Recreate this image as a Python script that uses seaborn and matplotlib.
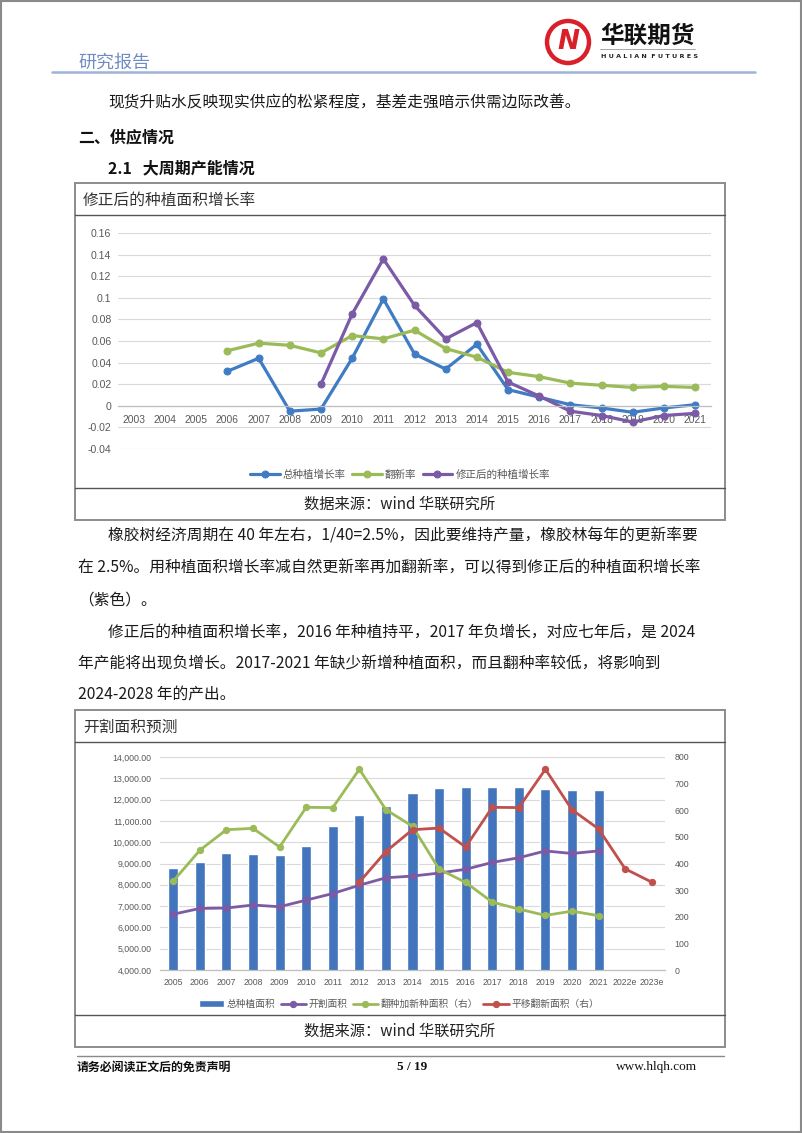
import matplotlib
matplotlib.use("Agg")
import matplotlib.pyplot as plt
import seaborn as sns
import numpy as np
from matplotlib.patches import Rectangle, Ellipse
from matplotlib.lines import Line2D
from matplotlib.ticker import FixedLocator

# ---------------- data ----------------
years1 = [str(y) for y in range(2003, 2022)]
total_growth_years = [str(y) for y in range(2006, 2022)]
total_growth = [0.032, 0.044, -0.005, -0.003, 0.044, 0.099, 0.048, 0.034, 0.057,
                0.015, 0.008, 0.001, -0.002, -0.006, -0.002, 0.001]
renew_rate = [0.051, 0.058, 0.056, 0.049, 0.065, 0.062, 0.070, 0.053, 0.045,
              0.031, 0.027, 0.021, 0.019, 0.017, 0.018, 0.017]
adjusted_years = [str(y) for y in range(2009, 2022)]
adjusted_growth = [0.020, 0.085, 0.136, 0.093, 0.062, 0.077, 0.022, 0.009, -0.005,
                   -0.009, -0.015, -0.009, -0.007]
y1_ticks = [-0.04, -0.02, 0, 0.02, 0.04, 0.06, 0.08, 0.1, 0.12, 0.14, 0.16]
y1_labels = ["-0.04", "-0.02", "0", "0.02", "0.04", "0.06", "0.08", "0.1", "0.12", "0.14", "0.16"]

years2 = [str(y) for y in range(2005, 2022)] + ["2022e", "2023e"]
planted_years = [str(y) for y in range(2005, 2022)]
planted_area = [8800, 9080, 9470, 9440, 9400, 9810, 10780, 11270, 11690, 12330,
                12530, 12610, 12610, 12580, 12520, 12470, 12470]
tapping_area = [6620, 6890, 6910, 7050, 6970, 7280, 7590, 7980, 8330, 8410,
                8550, 8730, 9050, 9270, 9590, 9470, 9590]
replant_new_area = [334, 450, 527, 532, 462, 611, 610, 754, 602, 540,
                    379, 329, 255, 229, 205, 221, 204]
shifted_years = [str(y) for y in range(2012, 2022)] + ["2022e", "2023e"]
shifted_area = [330, 445, 527, 533, 462, 611, 610, 754, 602, 530, 380, 330]
left_ticks = list(range(4000, 14001, 1000))
right_ticks = list(range(0, 801, 100))

# ---------------- setup ----------------
sns.set_style("white")
plt.rcParams['font.family'] = ['Noto Sans CJK SC', 'DejaVu Sans']
W, H = 802, 1133
fig = plt.figure(figsize=(W / 100, H / 100), dpi=100)

def fx(x): return x / W
def fy(y): return 1 - y / H

def axes_px(l, t, r, b):
    return fig.add_axes([l / W, 1 - b / H, (r - l) / W, (b - t) / H])

def ftext(x, y, s, **kw):
    kw.setdefault("va", "center")
    kw.setdefault("ha", "left")
    fig.text(fx(x), fy(y), s, **kw)

def fline(x0, x1, y0, y1, **kw):
    fig.add_artist(Line2D([fx(x0), fx(x1)], [fy(y0), fy(y1)], transform=fig.transFigure, **kw))

def fbox(l, t, r, b, **kw):
    fig.add_artist(Rectangle((fx(l), fy(b)), (r - l) / W, (b - t) / H,
                             transform=fig.transFigure, fill=False, **kw))

# page border
fbox(1, 1, W - 1, H - 1, edgecolor="#8a8a8a", lw=1.5)

# ---------------- header ----------------
ftext(78, 63, "研究报告", fontsize=13, color="#6f8cc0")
fline(52, 755, 72, 72, color="#9db3d9", lw=1.8)
fig.add_artist(Ellipse((fx(568), fy(42)), 42 / W, 42 / H, transform=fig.transFigure,
                       facecolor="white", edgecolor="#d9202a", lw=3.2))
ftext(568, 42, "N", fontsize=19, color="#d9202a", fontweight="bold", style="italic",
      ha="center", family="DejaVu Sans")
ftext(600, 36, "华联期货", fontsize=17, fontweight="bold", color="#111111")
fline(600, 695, 49, 49, color="#999999", lw=0.6)
ftext(601, 57, "H U A L I A N  F U T U R E S", fontsize=4.6, fontweight="bold",
      color="#222222", family="DejaVu Sans")

# ---------------- body text ----------------
body = dict(fontsize=11.3, color="#1a1a1a")
ftext(108, 103, "现货升贴水反映现实供应的松紧程度，基差走强暗示供需边际改善。", **body)
ftext(78, 137, "二、供应情况", fontsize=11.5, fontweight="bold", color="#111111")
ftext(108, 168, "2.1   大周期产能情况", fontsize=11.5, fontweight="bold", color="#111111")

ftext(108, 536, "橡胶树经济周期在 40 年左右，1/40=2.5%，因此要维持产量，橡胶林每年的更新率要", **body)
ftext(78, 568, "在 2.5%。用种植面积增长率减自然更新率再加翻新率，可以得到修正后的种植面积增长率", **body)
ftext(78, 600, "（紫色）。", **body)
ftext(108, 632, "修正后的种植面积增长率，2016 年种植持平，2017 年负增长，对应七年后，是 2024", **body)
ftext(78, 664, "年产能将出现负增长。2017-2021 年缺少新增种植面积，而且翻种率较低，将影响到", **body)
ftext(78, 695, "2024-2028 年的产出。", **body)

# ---------------- chart boxes ----------------
for (top, sep1, sep2, bot, title) in [(183, 215, 488, 520, "修正后的种植面积增长率"),
                                       (710, 742, 1015, 1047, "开割面积预测")]:
    fbox(75, top, 725, bot, edgecolor="#8c8c8c", lw=1.4)
    fline(75, 725, sep1, sep1, color="#555555", lw=1.0)
    fline(75, 725, sep2, sep2, color="#555555", lw=1.0)
    ftext(83, (top + sep1) / 2 + 1, title, fontsize=11.3, color="#333333")
    ftext(400, (sep2 + bot) / 2, "数据来源：wind 华联研究所", fontsize=11, color="#222222",
          ha="center")

grey = "#595959"
c_blue, c_green, c_purple, c_red = "#3f7cc3", "#9bbb59", "#7b5aa6", "#c0504d"
c_bar = "#4275bd"

# ---------------- chart 1 ----------------
ax1 = axes_px(118.4, 233, 710.6, 449)
pos1 = {y: i for i, y in enumerate(years1)}
for yrs, vals, col, lab in [(total_growth_years, total_growth, c_blue, "总种植增长率"),
                            (total_growth_years, renew_rate, c_green, "翻新率"),
                            (adjusted_years, adjusted_growth, c_purple, "修正后的种植增长率")]:
    sns.lineplot(x=[pos1[y] for y in yrs], y=vals, ax=ax1, color=col, lw=2.3,
                 marker="o", markersize=5, markeredgecolor=col, label=lab)
if ax1.get_legend():
    ax1.get_legend().remove()
for s in ["top", "right", "left"]:
    ax1.spines[s].set_visible(False)
ax1.spines["bottom"].set_position(("data", 0))
ax1.spines["bottom"].set_color("#bfbfbf")
ax1.spines["bottom"].set_linewidth(0.9)
ax1.set_xlim(-0.5, len(years1) - 0.5)
ax1.set_ylim(-0.04, 0.16)
ax1.set_yticks(y1_ticks)
ax1.set_yticklabels(y1_labels, fontsize=7.6, color=grey, family="Liberation Sans")
ax1.set_xticks(range(len(years1)))
ax1.set_xticklabels(years1, fontsize=7.4, color=grey, family="Liberation Sans")
ax1.xaxis.set_minor_locator(FixedLocator(np.arange(-0.5, len(years1), 1)))
ax1.tick_params(axis="y", length=0, pad=5)
ax1.tick_params(axis="x", which="major", length=0, pad=6.5)
ax1.tick_params(axis="x", which="minor", length=4, color="#bfbfbf", width=0.8)
ax1.grid(axis="y", color="#d9d9d9", lw=0.8)
ax1.set_axisbelow(True)
ax1.set_xlabel("")
ax1.set_ylabel("")
ax1.set_facecolor("none")
h1, l1 = ax1.get_legend_handles_labels()
fig.legend(h1, l1, loc="center", bbox_to_anchor=(fx(400), fy(475)), ncol=3, frameon=False,
           fontsize=7.6, handlelength=2.8, handletextpad=0.3, columnspacing=0.6,
           labelcolor=grey)

# ---------------- chart 2 ----------------
ax2 = axes_px(160, 757, 665, 970)
pos2 = {y: i for i, y in enumerate(years2)}
sns.barplot(x=[pos2[y] for y in planted_years], y=planted_area, ax=ax2, native_scale=True,
            color=c_bar, saturation=1, width=0.38, label="总种植面积")
sns.lineplot(x=[pos2[y] for y in planted_years], y=tapping_area, ax=ax2, color=c_purple,
             lw=2, marker="o", markersize=4.5, markeredgecolor=c_purple, label="开割面积")
for s in ["top", "right", "left"]:
    ax2.spines[s].set_visible(False)
ax2.spines["bottom"].set_color("#bfbfbf")
ax2.spines["bottom"].set_linewidth(0.9)
ax2.set_xlim(-0.5, len(years2) - 0.5)
ax2.set_ylim(4000, 14000)
ax2.set_yticks(left_ticks)
ax2.set_yticklabels([f"{v:,.2f}" for v in left_ticks], fontsize=6.3, color=grey,
                    family="Liberation Sans")
ax2.set_xticks(range(len(years2)))
ax2.set_xticklabels(years2, fontsize=6.3, color=grey, family="Liberation Sans")
ax2.xaxis.set_minor_locator(FixedLocator(np.arange(-0.5, len(years2), 1)))
ax2.tick_params(axis="y", length=0, pad=6)
ax2.tick_params(axis="x", which="major", length=0, pad=6)
ax2.tick_params(axis="x", which="minor", length=4, color="#bfbfbf", width=0.8)
ax2.grid(axis="y", color="#d9d9d9", lw=0.8)
ax2.set_axisbelow(True)
ax2.set_xlabel("")
ax2.set_ylabel("")

ax3 = ax2.twinx()
sns.lineplot(x=[pos2[y] for y in planted_years], y=replant_new_area, ax=ax3, color=c_green,
             lw=2, marker="o", markersize=4.5, markeredgecolor=c_green, label="翻种加新种面积（右）")
sns.lineplot(x=[pos2[y] for y in shifted_years], y=shifted_area, ax=ax3, color=c_red,
             lw=2, marker="o", markersize=4.5, markeredgecolor=c_red, label="平移翻新面积（右）")
for s in ["top", "right", "left", "bottom"]:
    ax3.spines[s].set_visible(False)
ax3.set_ylim(0, 800)
ax3.set_yticks(right_ticks)
ax3.set_yticklabels([str(v) for v in right_ticks], fontsize=6.3, color=grey,
                    family="Liberation Sans")
ax3.tick_params(axis="y", length=0, pad=7)
ax3.set_ylabel("")
ax3.set_xlim(-0.5, len(years2) - 0.5)
for a in (ax2, ax3):
    if a.get_legend():
        a.get_legend().remove()
ha, la = ax2.get_legend_handles_labels()
hb, lb = ax3.get_legend_handles_labels()
order = ["总种植面积", "开割面积"]
ha_sorted = [ha[la.index(k)] for k in order]
fig.legend(ha_sorted + hb, order + lb, loc="center", bbox_to_anchor=(fx(399), fy(1004)), ncol=4,
           frameon=False, fontsize=7, handlelength=2.6, handletextpad=0.3,
           columnspacing=0.5, labelcolor=grey)

# ---------------- footer ----------------
fline(77, 724, 1056, 1056, color="#8a8a8a", lw=1.0)
ftext(77, 1067, "请务必阅读正文后的免责声明", fontsize=8.6, fontweight="bold", color="#111111")
ftext(412, 1067, "5 / 19", fontsize=9.5, fontweight="bold", color="#111111", ha="center",
      family="Liberation Serif")
ftext(697, 1067, "www.hlqh.com", fontsize=9.5, color="#111111", ha="right",
      family="Liberation Serif")

fig.savefig("out.png", dpi=100)
